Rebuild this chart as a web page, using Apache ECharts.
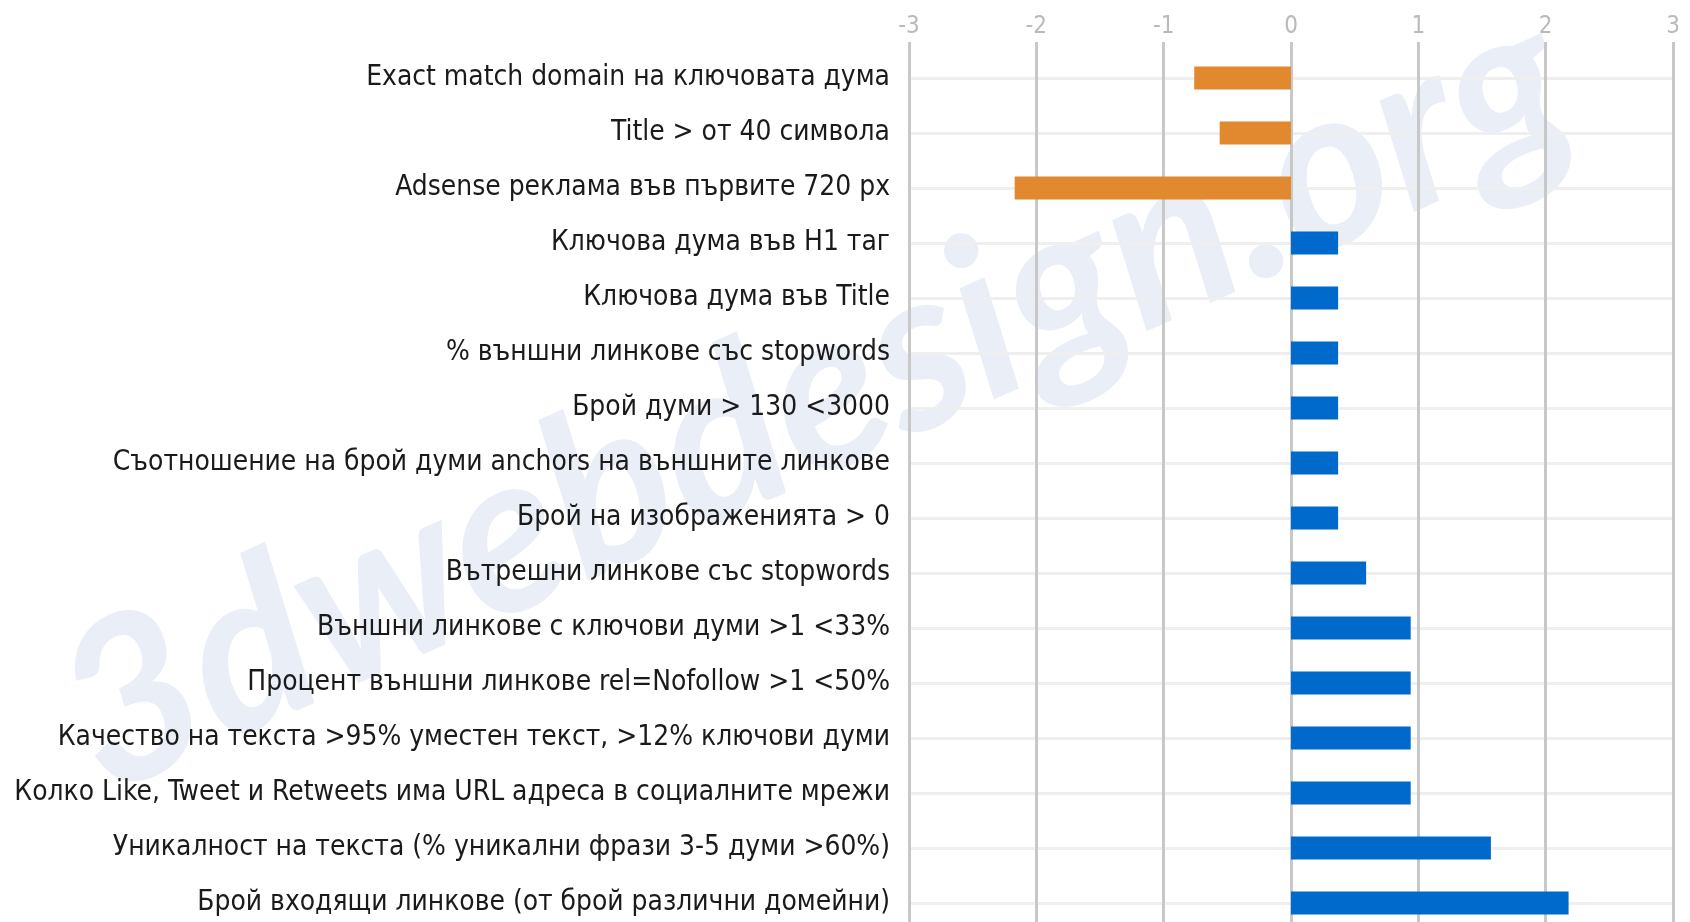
<!DOCTYPE html>
<html>
<head>
<meta charset="utf-8">
<script src="https://cdn.jsdelivr.net/npm/echarts@6/dist/echarts.min.js"></script>
<style>
  html, body { margin: 0; padding: 0; background: #fff; }
  #chart { width: 1690px; height: 922px; }
</style>
</head>
<body>
<div id="chart"></div>
<script>
const categories = [
    'Exact match domain на ключовата дума',
    'Title > от 40 символа',
    'Adsense реклама във първите 720 px',
    'Ключова дума във H1 таг',
    'Ключова дума във Title',
    '% външни линкове със stopwords',
    'Брой думи > 130 <3000',
    'Съотношение на брой думи anchors на външните линкове',
    'Брой на изображенията > 0',
    'Вътрешни линкове със stopwords',
    'Външни линкове с ключови думи >1 <33%',
    'Процент външни линкове rel=Nofollow >1 <50%',
    'Качество на текста >95% уместен текст, >12% ключови думи',
    'Колко Like, Tweet и Retweets има URL адреса в социалните мрежи',
    'Уникалност на текста (% уникални фрази 3-5 думи >60%)',
    'Брой входящи линкове (от брой различни домейни)'
];
const values = [-0.76, -0.56, -2.17, 0.37, 0.37, 0.37, 0.37, 0.37, 0.37, 0.59, 0.94, 0.94, 0.94, 0.94, 1.57, 2.18];
const axisMin = -3;
const axisMax = 3;

const negColor = '#e2882e';
const posColor = '#006acc';
const narrow = "'DejaVu Sans Condensed', 'Liberation Sans', sans-serif";

const chart = echarts.init(document.getElementById('chart'), null, { renderer: 'canvas' });

const option = {
    backgroundColor: '#fff',
    animation: false,
    graphic: [{
        type: 'text',
        x: 815,
        y: 400,
        rotation: 0.42,
        z: -10,
        silent: true,
        style: {
            text: '3dwebdesign.org',
            x: 0,
            y: 0,
            align: 'center',
            verticalAlign: 'middle',
            fontSize: 225,
            fontWeight: 'bold',
            fontStyle: 'italic',
            fontFamily: 'Lato, sans-serif',
            fill: '#e9eef7'
        }
    }],
    grid: [
        // vertical grid lines + tick labels
        { left: 909, right: 17, top: 42, bottom: 0, outerBoundsMode: 'none' },
        // bars
        { left: 909, right: 17, top: 78, bottom: 19, outerBoundsMode: 'none' }
    ],
    xAxis: [
        {
            gridIndex: 0,
            type: 'value',
            position: 'top',
            min: axisMin,
            max: axisMax,
            interval: 1,
            z: 1,
            axisLine: { show: false },
            axisTick: { show: false },
            axisLabel: { color: '#bababa', fontSize: 24, fontFamily: narrow, margin: 3 },
            splitLine: { show: true, lineStyle: { color: '#c8c8c8', width: 3 } }
        },
        {
            gridIndex: 1,
            type: 'value',
            min: axisMin,
            max: axisMax,
            show: false,
            splitLine: { show: false }
        }
    ],
    yAxis: [
        {
            gridIndex: 0,
            type: 'value',
            show: false,
            splitLine: { show: false }
        },
        {
            gridIndex: 1,
            type: 'category',
            data: categories,
            inverse: true,
            boundaryGap: false,
            z: 0,
            axisLine: { show: false },
            axisTick: { show: false },
            axisLabel: { color: '#1a1a1a', fontSize: 27.9, fontFamily: narrow, margin: 19 },
            splitLine: { show: true, lineStyle: { color: '#efefef', width: 3 } }
        }
    ],
    series: [{
        type: 'bar',
        xAxisIndex: 1,
        yAxisIndex: 1,
        barWidth: 23,
        clip: false,
        data: values.map(v => ({
            value: v,
            itemStyle: { color: v < 0 ? negColor : posColor }
        }))
    }]
};

chart.setOption(option);
</script>
</body>
</html>
